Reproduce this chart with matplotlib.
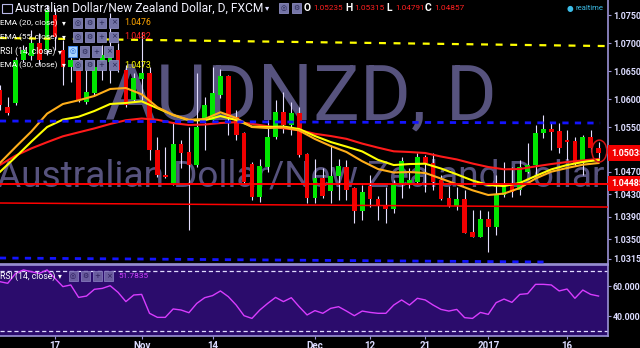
import matplotlib
matplotlib.use("Agg")
import matplotlib.pyplot as plt
import matplotlib.transforms as mtrans
from matplotlib import font_manager
from matplotlib.patches import Rectangle, Ellipse

plt.rcParams['lines.scale_dashes'] = False

# AUDNZD daily, FXCM. bar 0 = 17 Oct 2016, weekdays only
bar_idx = list(range(-7, 70))
opens = [1.06161, 1.05857, 1.05929, 1.06697, 1.06768, 1.07000, 1.06875,
         1.07500, 1.06875, 1.06571, 1.06697, 1.05946, 1.06107, 1.06554, 1.06661, 1.06875, 1.06518,
         1.05982, 1.06357, 1.06464, 1.05089, 1.04643, 1.04500, 1.05196, 1.05054, 1.04821, 1.05625,
         1.05625, 1.06071, 1.06411, 1.05679, 1.05393, 1.04839, 1.04250, 1.04786, 1.05321, 1.05768,
         1.05536, 1.05750, 1.05018, 1.04232, 1.04589, 1.04357, 1.04625, 1.04786, 1.04411, 1.04000,
         1.04447, 1.04214, 1.04107, 1.04036, 1.04482, 1.04500, 1.04518, 1.04964, 1.04857, 1.04554,
         1.04232, 1.04089, 1.04214, 1.03625, 1.03536, 1.03857, 1.03714, 1.04286, 1.04500, 1.04375,
         1.04697, 1.04821, 1.05393, 1.05464, 1.05429, 1.05268, 1.05250, 1.04857, 1.05321, 1.05125]
highs = [1.06250, 1.06036, 1.06750, 1.06964, 1.07232, 1.07179, 1.07679,
         1.07625, 1.07054, 1.06911, 1.06732, 1.06643, 1.06697, 1.06964, 1.07536, 1.07000, 1.06607,
         1.06464, 1.07196, 1.06571, 1.05321, 1.05143, 1.05589, 1.05268, 1.05500, 1.06464, 1.06036,
         1.06571, 1.06536, 1.06430, 1.05804, 1.05410, 1.04875, 1.04929, 1.05625, 1.05982, 1.06125,
         1.05946, 1.05857, 1.05036, 1.04929, 1.04768, 1.05179, 1.04929, 1.04911, 1.04429, 1.04464,
         1.04643, 1.04268, 1.04429, 1.04554, 1.04964, 1.04768, 1.05036, 1.05000, 1.05036, 1.04643,
         1.04447, 1.04429, 1.04375, 1.04018, 1.04018, 1.04000, 1.04643, 1.04875, 1.04786, 1.04911,
         1.05214, 1.05536, 1.05714, 1.05571, 1.05571, 1.05446, 1.05321, 1.05357, 1.05446, 1.05232]
lows = [1.05804, 1.05714, 1.05893, 1.06661, 1.06697, 1.06607, 1.06786,
        1.06875, 1.06250, 1.06304, 1.05946, 1.05911, 1.06071, 1.06339, 1.06286, 1.06482, 1.05857,
        1.05946, 1.05982, 1.04911, 1.04607, 1.04590, 1.04464, 1.04768, 1.03661, 1.04786, 1.05089,
        1.05589, 1.06018, 1.05357, 1.05268, 1.04500, 1.04196, 1.04161, 1.04697, 1.05286, 1.05393,
        1.05357, 1.04964, 1.04143, 1.04143, 1.04232, 1.04143, 1.04196, 1.04196, 1.03786, 1.03839,
        1.04071, 1.03839, 1.03786, 1.03964, 1.04232, 1.04411, 1.04500, 1.04339, 1.04375, 1.04196,
        1.04071, 1.04018, 1.03600, 1.03530, 1.03530, 1.03268, 1.03571, 1.04250, 1.04250, 1.04286,
        1.04679, 1.04643, 1.05304, 1.05089, 1.05036, 1.04911, 1.04821, 1.04643, 1.05054, 1.04911]
closes = [1.05893, 1.05750, 1.06697, 1.06875, 1.07000, 1.06697, 1.07589,
          1.07107, 1.06571, 1.06697, 1.05982, 1.06125, 1.06571, 1.06786, 1.06911, 1.06518, 1.05893,
          1.06375, 1.06464, 1.05089, 1.04643, 1.04607, 1.05196, 1.05036, 1.04821, 1.05500, 1.05893,
          1.06107, 1.06411, 1.05679, 1.05357, 1.04518, 1.04250, 1.04804, 1.05321, 1.05768, 1.05536,
          1.05750, 1.05000, 1.04232, 1.04589, 1.04268, 1.04625, 1.04804, 1.04375, 1.04000, 1.04339,
          1.04214, 1.04107, 1.04036, 1.04482, 1.04893, 1.04554, 1.04964, 1.04857, 1.04518, 1.04214,
          1.04089, 1.04214, 1.03607, 1.03536, 1.03857, 1.03714, 1.04286, 1.04464, 1.04339, 1.04786,
          1.04821, 1.05393, 1.05464, 1.05411, 1.05125, 1.05232, 1.04857, 1.05321, 1.05125, 1.05036]

rsi = [62.9, 61.8, 68.4, 70.7, 69.5, 68.4, 70.7,
       65.1, 59.6, 60.7, 52.4, 53.3, 57.8, 58.4, 60.2, 55.8, 49.6,
       54.0, 54.4, 41.8, 39.1, 39.1, 44.7, 44.0, 42.2, 48.4, 52.2,
       53.6, 56.7, 52.9, 47.3, 40.2, 38.4, 44.0, 48.4, 52.4, 49.6,
       52.2, 46.2, 40.7, 43.6, 41.8, 45.1, 46.2, 43.3, 40.2, 43.3,
       42.4, 41.8, 41.8, 47.3, 50.7, 47.3, 51.8, 50.7, 47.3, 44.4,
       43.3, 44.4, 38.9, 38.4, 42.4, 41.1, 48.9, 51.3, 49.1, 54.4,
       54.9, 61.1, 61.1, 60.7, 56.7, 58.0, 51.8, 57.3, 54.4, 53.3]

# moving averages read every second bar
ema_idx = list(range(-7, 70, 2))
ema20 = [1.04857, 1.05143, 1.05420, 1.05739, 1.05911, 1.05977, 1.06054, 1.06179, 1.06196, 1.06084,
         1.05854, 1.05714, 1.05630, 1.05643, 1.05763, 1.05661, 1.05500, 1.05482, 1.05493, 1.05438,
         1.05286, 1.05161, 1.05054, 1.04889, 1.04750, 1.04688, 1.04696, 1.04679, 1.04579, 1.04477,
         1.04370, 1.04286, 1.04311, 1.04411, 1.04580, 1.04702, 1.04768, 1.04827, 1.04857]
ema30 = [1.04697, 1.04964, 1.05239, 1.05500, 1.05632, 1.05684, 1.05786, 1.05911, 1.05929, 1.05959,
         1.05836, 1.05714, 1.05620, 1.05620, 1.05696, 1.05625, 1.05507, 1.05500, 1.05509, 1.05464,
         1.05339, 1.05232, 1.05150, 1.05064, 1.04914, 1.04821, 1.04839, 1.04845, 1.04759, 1.04655,
         1.04545, 1.04464, 1.04446, 1.04500, 1.04625, 1.04743, 1.04821, 1.04875, 1.04911]
ema55 = [1.04821, 1.04989, 1.05118, 1.05229, 1.05334, 1.05405, 1.05475, 1.05554, 1.05621, 1.05652,
         1.05629, 1.05571, 1.05536, 1.05545, 1.05571, 1.05586, 1.05557, 1.05514, 1.05477, 1.05446,
         1.05379, 1.05339, 1.05289, 1.05204, 1.05132, 1.05066, 1.05054, 1.05036, 1.04973, 1.04921,
         1.04848, 1.04786, 1.04745, 1.04750, 1.04797, 1.04839, 1.04875, 1.04904, 1.04929]

# drawn levels / trend lines (bar index, price)
yellow_trend = ([-7, 69.8], [1.07089, 1.06946])
blue_upper = ([-7, 69.2], [1.05607, 1.05571])
blue_lower = ([-7, 62.8], [1.03161, 1.03089])
red_upper = ([-7, 70.3], [1.04485, 1.04485])
red_lower = ([-7, 70.3], [1.04143, 1.04071])

date_ticks = [0, 11, 20, 33, 40, 47, 55, 65]
date_labels = ['17', 'Nov', '14', 'Dec', '12', '21', '2017', '16']
price_ticks = [1.075, 1.070, 1.065, 1.060, 1.055, 1.047, 1.043, 1.039, 1.035, 1.0315]
rsi_ticks = [60, 40]
last_price = 1.05035
level_price = 1.04485

ohlc_text = [('O', '1.05235'), ('H', '1.05315'), ('L', '1.04791'), ('C', '1.04857')]
legend_rows = [('EMA (20, close)', '1.0476', '#ffa500'),
               ('EMA (55, close)', '1.0482', '#ff2020'),
               ('RSI (14, close)', '', None),
               ('EMA (30, close)', '1.0473', '#ffff00')]


def have(fam):
    try:
        font_manager.findfont(font_manager.FontProperties(family=fam), fallback_to_default=False)
        return True
    except Exception:
        return False


NARROW = next(f for f in ['Liberation Sans Narrow', 'Roboto', 'DejaVu Sans'] if have(f))
FAM = [NARROW, 'DejaVu Sans']

W, H = 640, 348
BG = '#000000'
RSI_BG = '#2b0c6c'
AXC = '#9a92d6'
TXT = '#dcdcff'
UP, DOWN = '#00e600', '#f00000'
WM = '#57537e'

fig = plt.figure(figsize=(W / 100, H / 100), dpi=100, facecolor=BG)
ax = fig.add_axes([0, 84 / H, 608 / W, 264 / H])
ar = fig.add_axes([0, 12 / H, 608 / W, 71 / H], sharex=ax)
renderer = fig.canvas.get_renderer()


def fit(t, w):
    bb = t.get_window_extent(renderer=renderer)
    t.set_fontsize(t.get_fontsize() * w / bb.width)
    return t


def ftext(x, y, s, **kw):
    kw.setdefault('family', FAM)
    kw.setdefault('va', 'center')
    kw.setdefault('ha', 'left')
    return fig.text(x / W, 1 - y / H, s, **kw)


def icon(x, y, sym, fc='#7474a6', ec='#8c8cc0', sc='#23234f', w=9, h=10):
    fig.patches.append(Rectangle((x / W, 1 - (y + h) / H), w / W, h / H, transform=fig.transFigure,
                                 facecolor=fc, edgecolor=ec, lw=0.6, zorder=10))
    ftext(x + w / 2, y + h / 2, sym, ha='center', color=sc, fontsize=5, zorder=11,
          family=['DejaVu Sans'])


for a in (ax, ar):
    a.set_facecolor(BG)
    for s in a.spines.values():
        s.set_color(AXC)
        s.set_linewidth(1.2)
    a.spines['left'].set_visible(False)
    a.yaxis.tick_right()
ar.set_facecolor(RSI_BG)
ax.spines['top'].set_visible(False)

ax.set_xlim(-6.98, 70.2)
ax.set_ylim(1.03054, 1.07768)
ar.set_ylim(26.67, 74)

# watermark
wm1 = ax.text(31.2, 1.06018, 'AUDNZD, D', ha='center', va='center', color=WM, fontsize=60,
              family=FAM, zorder=0)
fit(wm1, 392)
wm2 = ax.text(-7.3, 1.04446, 'Australian Dollar/New Zealand Dollar', ha='left', va='baseline',
              color=WM, fontsize=30, family=FAM, zorder=0)
fit(wm2, 606)

# candles
colors = [UP if c >= o else DOWN for o, c in zip(opens, closes)]
bottoms = [min(o, c) for o, c in zip(opens, closes)]
heights = [max(abs(c - o), 0.00014) for o, c in zip(opens, closes)]
ax.vlines(bar_idx, lows, highs, color='#e4deff', lw=0.8, zorder=3)
ax.bar(bar_idx, heights, width=0.6, bottom=bottoms, color=colors, linewidth=0, zorder=4)

# moving averages
ax.plot(ema_idx, ema55, color='#ff1a1a', lw=1.5, zorder=5)
ax.plot(ema_idx, ema30, color='#ffff00', lw=1.5, zorder=5)
ax.plot(ema_idx, ema20, color='#ffae1a', lw=1.5, zorder=5)

# drawings
ax.plot(*yellow_trend, color='#ffff00', lw=1.6, dashes=(5, 5.5), zorder=6)
ax.plot(*blue_upper, color='#1414ff', lw=2.0, dashes=(4.5, 4.5), zorder=6)
ax.plot(*blue_lower, color='#1414ff', lw=2.0, dashes=(4.5, 4.5), zorder=6)
ax.plot(*red_upper, color='#ff0000', lw=1.4, zorder=6, clip_on=False)
ax.plot(*red_lower, color='#ff0000', lw=1.1, zorder=6)
ax.add_patch(Ellipse((bar_idx[-1] + 0.1, 1.05071), 1.9, 0.0039, fill=False, ec='#d41414',
                     lw=1.1, zorder=7))

# price axis
ax.set_yticks(price_ticks)
ax.set_yticklabels(['%.5f' % p for p in price_ticks])
ax.tick_params(axis='y', colors=AXC, labelcolor=TXT, length=2, width=0.8, pad=1.5,
               labelsize=6.4)
ax.tick_params(axis='x', bottom=False, labelbottom=False)
for lab in ax.get_yticklabels():
    lab.set_family(FAM)
    lab.set_fontweight('bold')

blend = mtrans.blended_transform_factory(ax.transAxes, ax.transData)
for p in (last_price, level_price):
    ax.text(1.005, p, '%.5f' % p, transform=blend, ha='left', va='center', color='white',
            fontsize=6.4, fontweight='bold', family=FAM, clip_on=False, zorder=12,
            bbox=dict(boxstyle='square,pad=0.35', fc='#f20000', ec='none'))

# RSI panel
ar.axhline(70, color='#e2dcff', lw=0.9, dashes=(3, 2))
ar.axhline(30, color='#e2dcff', lw=0.9, dashes=(3, 2))
ar.plot(bar_idx, rsi, color='#d83cff', lw=1.0, zorder=4)
ar.set_yticks(rsi_ticks)
ar.set_yticklabels(['%.4f' % v for v in rsi_ticks])
ar.tick_params(axis='y', colors=AXC, labelcolor=TXT, length=2, width=0.8, pad=1.5, labelsize=6.4)
ar.set_xticks(date_ticks)
ar.set_xticklabels(date_labels)
ar.tick_params(axis='x', colors=AXC, labelcolor=TXT, length=2.5, width=0.8, pad=1.2,
               labelsize=7)
for lab in ar.get_yticklabels() + ar.get_xticklabels():
    lab.set_family(FAM)
    lab.set_fontweight('bold')

# header
fig.patches.append(Rectangle((2 / W, 1 - 13 / H), 10 / W, 9 / H, transform=fig.transFigure,
                             fill=False, edgecolor='#b8b8e8', lw=0.8))
fit(ftext(15, 8, 'Australian Dollar/New Zealand Dollar, D, FXCM', color='#f2f2ff', fontsize=10),
    247)
ftext(265, 8, '▾', color='#e0e0ff', fontsize=6, family=['DejaVu Sans'])
icon(279, 3, '◎')
icon(292, 3, '⚙')
for (letter, val), xl in zip(ohlc_text, [304, 345, 386, 425]):
    ftext(xl, 8, letter, color='white', fontsize=7.5, fontweight='bold')
    fit(ftext(xl + 9, 8, val, color='#ff2020', fontsize=7), 30)
ftext(570, 8, '●', ha='center', color='#3cbde8', fontsize=5.5, family=['DejaVu Sans'])
fit(ftext(575, 8, 'realtime', color='#3cbde8', fontsize=7), 28)

# legend
row_y = [22.7, 36.7, 51.5, 65]
for (name, val, col), y in zip(legend_rows, row_y):
    rsi_row = name.startswith('RSI')
    fit(ftext(0, y, name, color='white', fontsize=8), 56 if rsi_row else 58)
    ftext(58 if rsi_row else 62, y, '▾', color='white', fontsize=5.5, family=['DejaVu Sans'])
    xs = [68, 80, 92, 104] if rsi_row else [73, 85, 97, 109]
    for k, (xi, sym) in enumerate(zip(xs, ['◎', '⚙', '+', '×'])):
        if rsi_row and k == 0:
            icon(xi, y - 5, sym, fc='#a8d4ff', ec='#3c8cff', sc='#2060d0')
        else:
            icon(xi, y - 5, sym)
    if val:
        fit(ftext(124, y, val, color=col, fontsize=8), 27)

fit(ftext(0, 276, 'RSI (14, close)', color='white', fontsize=8), 56)
ftext(58, 276, '▾', color='white', fontsize=5.5, family=['DejaVu Sans'])
for xi, sym in zip([68.5, 80.5, 92.5, 104], ['◎', '⚙', '+', '×']):
    icon(xi, 271, sym, fc='#6a5c9e', ec='#8478bc', sc='#2a1a5a')
fit(ftext(118, 276, '51.7835', color='#d040ff', fontsize=8), 30)

fig.savefig('out.png', dpi=100, facecolor=BG)
